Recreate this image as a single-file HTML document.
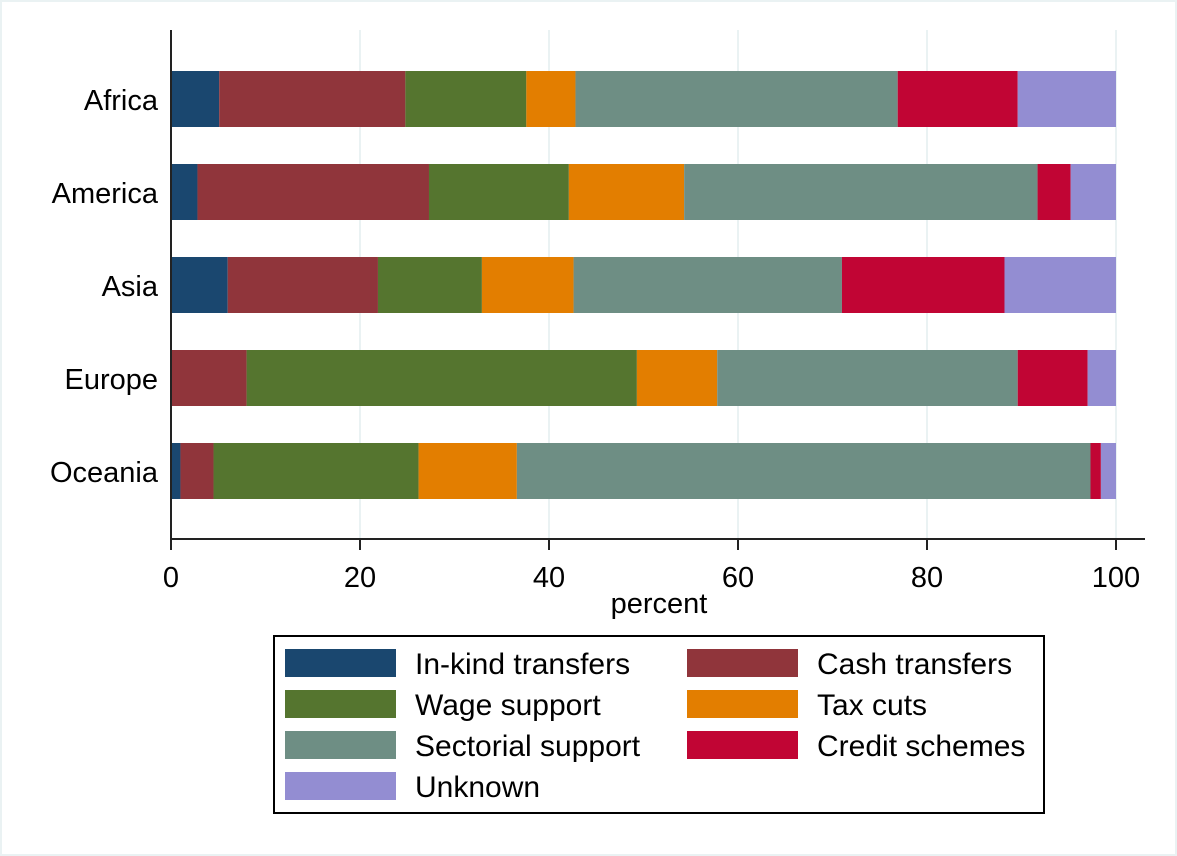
<!DOCTYPE html>
<html><head><meta charset="utf-8">
<style>
body{margin:0;background:#fff;}
svg{display:block;font-family:"Liberation Sans",Arial,sans-serif;}
</style></head>
<body>
<svg id="chart" width="1177" height="856">
<rect x="1" y="1" width="1175" height="854" fill="#fff" stroke="#eaf2f3" stroke-width="2"/>
<g id="grid"></g>
<g id="bars"></g>
<g id="axes"></g>
<g id="legend"></g>
</svg>
<script>
const categories = ["Africa","America","Asia","Europe","Oceania"];
const seriesNames = ["In-kind transfers","Cash transfers","Wage support","Tax cuts","Sectorial support","Credit schemes","Unknown"];
const inKind   = [5.1, 2.8, 6.0, 0.0, 1.0];
const cash     = [19.7, 24.5, 15.9, 8.0, 3.5];
const wage     = [12.8, 14.8, 11.0, 41.3, 21.7];
const taxCuts  = [5.2, 12.2, 9.7, 8.5, 10.4];
const sectoral = [34.1, 37.4, 28.4, 31.8, 60.7];
const credit   = [12.7, 3.5, 17.2, 7.4, 1.1];
const unknown  = [10.4, 4.8, 11.8, 3.0, 1.6];
const xTicks = [0,20,40,60,80,100];
const colors = ["#1a476f","#90353b","#55752f","#e37e00","#6e8e84","#c10534","#938dd2"];
const series = [inKind,cash,wage,taxCuts,sectoral,credit,unknown];
const NS="http://www.w3.org/2000/svg";
const x0=171, x1=1116, plotTop=30, plotBottom=539;
const xs=v=>x0+(v/100)*(x1-x0);
const yc=i=>99+i*93;
const barH=56;
function mk(t,a,p){const e=document.createElementNS(NS,t);for(const k in a)e.setAttribute(k,a[k]);p.appendChild(e);return e;}
const grid=document.getElementById('grid'),bars=document.getElementById('bars'),axes=document.getElementById('axes'),leg=document.getElementById('legend');
xTicks.forEach(t=>{if(t>0){const l=mk('line',{x1:xs(t),x2:xs(t),y1:plotTop,y2:plotBottom,stroke:'#eaf2f3','stroke-width':2},grid);

}});
categories.forEach((c,i)=>{let acc=0;series.forEach((s,j)=>{const v=s[i];const r=mk('rect',{x:xs(acc),y:yc(i)-barH/2,width:Math.max(0,xs(acc+v)-xs(acc)),height:barH,fill:colors[j]},bars);


acc+=v;});
const lab=mk('text',{x:158,y:yc(i)+11,'text-anchor':'end','font-size':29,fill:'#000'},axes);lab.textContent=c;

});
const ya=mk('line',{x1:x0,x2:x0,y1:plotTop,y2:plotBottom,stroke:'#222','stroke-width':2},axes);


const xa=mk('line',{x1:x0-1,x2:1145,y1:plotBottom,y2:plotBottom,stroke:'#222','stroke-width':2},axes);


xTicks.forEach(t=>{const l=mk('line',{x1:xs(t),x2:xs(t),y1:plotBottom,y2:550,stroke:'#222','stroke-width':2},axes);


const tx=mk('text',{x:xs(t),y:587,'text-anchor':'middle','font-size':29},axes);tx.textContent=t;

});
const xt=mk('text',{x:659,y:613,'text-anchor':'middle','font-size':29},axes);xt.textContent='percent';


const lb=mk('rect',{x:274,y:636,width:770,height:177,fill:'#fff',stroke:'#000','stroke-width':2},leg);


seriesNames.forEach((n,j)=>{const col=j%2,row=Math.floor(j/2);const sx=col?687:285,sy=649+row*41;
const sw=mk('rect',{x:sx,y:sy,width:111,height:28,fill:colors[j]},leg);


const t=mk('text',{x:sx+130,y:sy+25,'font-size':30},leg);t.textContent=n;

});
</script>
</body></html>
